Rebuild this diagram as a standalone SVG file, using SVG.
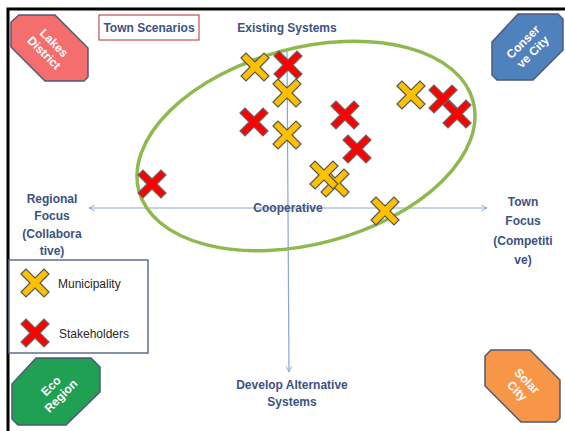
<svg xmlns="http://www.w3.org/2000/svg" width="565" height="431" viewBox="0 0 565 431">
<defs>
<style>
.t{font-family:"Liberation Sans",Arial,sans-serif;font-weight:bold;font-size:12px;fill:#3c5283;text-anchor:middle}
.w{font-family:"Liberation Sans",Arial,sans-serif;font-weight:bold;font-size:12px;fill:#ffffff;text-anchor:middle}
.l{font-family:"Liberation Sans",Arial,sans-serif;font-size:12px;fill:#262626}
.oct{stroke:#4d5a78;stroke-width:1.5}
.ax{stroke:#8aa6d6;stroke-width:1.2;fill:none}
.y{fill:#ffc000;stroke:#555555;stroke-width:1.2}
.r{fill:#ff0000;stroke:#666666;stroke-width:1.2}
</style>
<path id="x" d="M-14,-9 L-9,-14 L0,-5 L9,-14 L14,-9 L5,0 L14,9 L9,14 L0,5 L-9,14 L-14,9 L-5,0 Z"/>
<marker id="ah" viewBox="0 0 10 10" refX="9" refY="5" markerWidth="7" markerHeight="7" orient="auto-start-reverse" markerUnits="userSpaceOnUse">
<path d="M1,1 L9,5 L1,9" fill="none" stroke="#8aa6d6" stroke-width="1.3"/>
</marker>
</defs>
<rect width="565" height="431" fill="#ffffff"/>
<path d="M8,431 L8,9 L565,9" fill="none" stroke="#000" stroke-width="3"/>

<g id="connectors">
<line class="ax" x1="487" y1="208" x2="89" y2="208" marker-start="url(#ah)" marker-end="url(#ah)"/>
<line class="ax" x1="287" y1="50" x2="289" y2="372" marker-end="url(#ah)"/>
</g>

<g id="ellipse">
<ellipse cx="306" cy="146" rx="173" ry="98" transform="rotate(-15 306 146)" fill="none" stroke="#8fb94f" stroke-width="3.5"/>
</g>

<g id="lakes-district">
<polygon class="oct" fill="#f46e6e" points="19,15 55,15 88,48 88,77 84,81 45,81 11,47 11,22"/>
<text class="w" transform="translate(49,48) rotate(45)"><tspan x="0" y="-3">Lakes</tspan><tspan x="0" y="11">District</tspan></text>
</g>
<g id="conserve-city">
<polygon class="oct" fill="#4f81bd" points="518,14 558,14 563,19 563,50 533,80 497,80 492,75 492,42"/>
<text class="w" transform="translate(528,47) rotate(-45)"><tspan x="0" y="-3">Conser</tspan><tspan x="0" y="11">ve City</tspan></text>
</g>
<g id="eco-region">
<polygon class="oct" fill="#1fa052" points="36,358 91,358 100,367 100,392 66,425 18,425 12,419 12,384"/>
<text class="w" transform="translate(56,391) rotate(-45)"><tspan x="0" y="-3">Eco</tspan><tspan x="0" y="11">Region</tspan></text>
</g>
<g id="solar-city">
<polygon class="oct" fill="#f79646" points="491,350 530,350 560,380 560,418 556,422 521,422 485,386 485,356"/>
<text class="w" transform="translate(522,386) rotate(45)"><tspan x="0" y="-3">Solar</tspan><tspan x="0" y="11">City</tspan></text>
</g>

<g id="town-scenarios">
<rect x="99" y="15" width="100" height="25" fill="#fff" stroke="#c0504d" stroke-width="1.2"/>
<text class="t" x="149" y="32">Town Scenarios</text>
</g>
<g id="existing-systems"><text class="t" x="287" y="32">Existing Systems</text></g>
<g id="regional-focus"><text class="t"><tspan x="52" y="203">Regional</tspan><tspan x="52" y="220">Focus</tspan><tspan x="52" y="238">(Collabora</tspan><tspan x="52" y="255">tive)</tspan></text></g>
<g id="town-focus"><text class="t"><tspan x="523" y="206">Town</tspan><tspan x="523" y="225">Focus</tspan><tspan x="523" y="245">(Competiti</tspan><tspan x="523" y="264">ve)</tspan></text></g>
<g id="cooperative"><text class="t" x="288" y="212">Cooperative</text></g>
<g id="develop"><text class="t"><tspan x="292" y="389">Develop Alternative</tspan><tspan x="292" y="406">Systems</tspan></text></g>

<g id="crosses">
<use href="#x" class="y" x="255" y="67"/>
<use href="#x" class="r" x="288" y="65"/>
<use href="#x" class="y" x="287" y="93"/>
<use href="#x" class="r" x="254" y="122"/>
<use href="#x" class="y" x="287" y="135"/>
<use href="#x" class="r" x="345" y="115"/>
<use href="#x" class="r" x="357" y="149"/>
<use href="#x" class="y" x="335" y="183"/>
<use href="#x" class="y" x="324" y="175"/>
<use href="#x" class="r" x="152" y="184"/>
<use href="#x" class="y" x="385" y="211"/>
<use href="#x" class="y" x="411" y="95"/>
<use href="#x" class="r" x="443" y="99"/>
<use href="#x" class="r" x="457" y="114"/>
</g>

<g id="legend">
<rect x="9" y="260" width="139" height="93" fill="#fff" stroke="#5f6f8c" stroke-width="1.5"/>
<use href="#x" class="y" x="35" y="283"/>
<text class="l" x="58" y="288">Municipality</text>
<use href="#x" class="r" x="35" y="333"/>
<text class="l" x="59" y="338">Stakeholders</text>
</g>
</svg>
